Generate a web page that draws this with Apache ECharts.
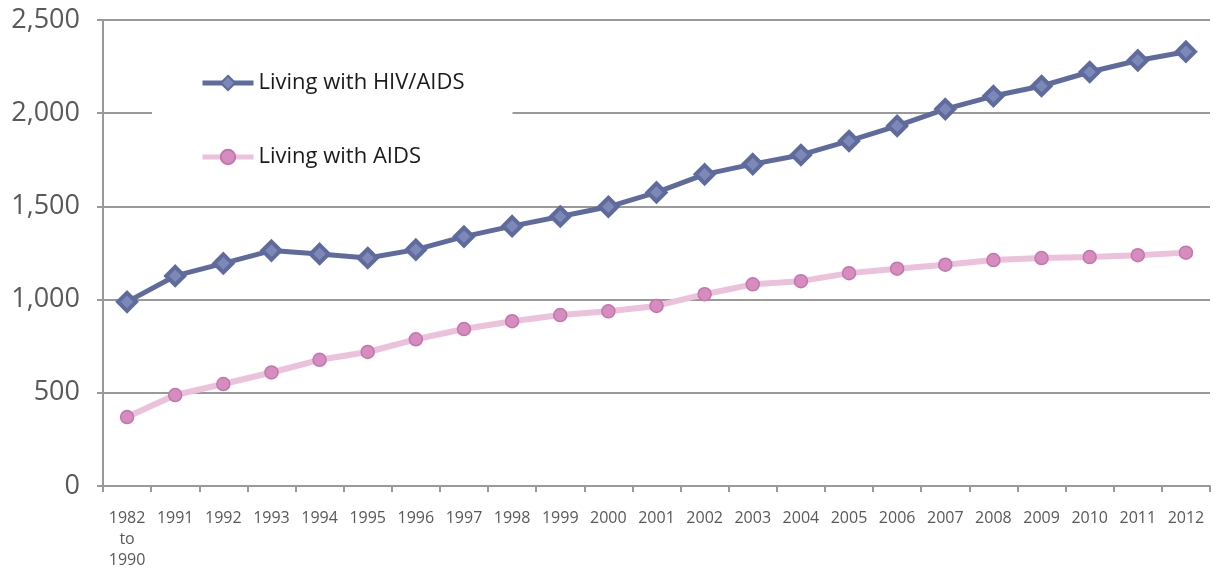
<!DOCTYPE html>
<html>
<head>
<meta charset="utf-8">
<script src="https://cdn.jsdelivr.net/npm/echarts@6/dist/echarts.min.js"></script>
<style>
html,body{margin:0;padding:0;background:#fff;}
#chart{width:1216px;height:571px;}
</style>
</head>
<body>
<div id="chart"></div>
<script>
const categories = ['1982\nto\n1990','1991','1992','1993','1994','1995','1996','1997','1998','1999','2000','2001','2002','2003','2004','2005','2006','2007','2008','2009','2010','2011','2012'];
const livingWithHivAids = [988,1127,1194,1263,1245,1223,1268,1338,1394,1446,1498,1575,1672,1727,1776,1851,1932,2022,2092,2146,2221,2283,2330];
const livingWithAids = [370,488,547,609,677,719,787,842,884,917,937,966,1029,1082,1099,1142,1166,1187,1212,1223,1228,1238,1252];
const yTicks = [0,500,1000,1500,2000,2500];

const chart = echarts.init(document.getElementById('chart'), null, {renderer:'canvas'});
const fontFamily = '"Open Sans", "Noto Sans", sans-serif';
chart.setOption({
  animation: false,
  backgroundColor: '#ffffff',
  textStyle: {fontFamily: fontFamily},
  grid: {left: 103, right: 6, top: 20, bottom: 85, outerBoundsMode: 'none'},
  legend: {
    orient: 'vertical',
    left: 152,
    top: 44,
    padding: [28, 48, 28, 48],
    backgroundColor: '#ffffff',
    itemWidth: 51,
    itemHeight: 18,
    itemGap: 52,
    textStyle: {fontSize: 22, color: '#1a1a1a', fontFamily: fontFamily, lineHeight: 22},
    data: [
      {name: 'Living with HIV/AIDS', lineStyle: {width: 5, color: '#5F6B9C'}},
      {name: 'Living with AIDS', lineStyle: {width: 5, color: '#EBC1DC'}}
    ]
  },
  xAxis: {
    type: 'category',
    data: categories,
    boundaryGap: true,
    axisLine: {show: true, lineStyle: {color: '#999999', width: 2}},
    axisTick: {show: true, length: 6, interval: 0, lineStyle: {color: '#999999', width: 2}},
    axisLabel: {interval: 0, fontSize: 16, color: '#595959', margin: 22, lineHeight: 21, fontFamily: fontFamily},
    splitLine: {show: false}
  },
  yAxis: {
    type: 'value',
    min: yTicks[0],
    max: yTicks[yTicks.length - 1],
    interval: 500,
    axisLine: {show: true, lineStyle: {color: '#999999', width: 2}},
    axisTick: {show: true, length: 6, lineStyle: {color: '#999999', width: 2}},
    axisLabel: {fontSize: 27, color: '#595959', margin: 23, fontFamily: fontFamily,
      formatter: v => v.toLocaleString('en-US')},
    splitLine: {show: true, lineStyle: {color: '#999999', width: 2}}
  },
  series: [
    {
      name: 'Living with HIV/AIDS',
      type: 'line',
      data: livingWithHivAids,
      symbol: 'diamond',
      symbolSize: 18,
      lineStyle: {color: '#5F6B9C', width: 5},
      itemStyle: {color: '#7C88B8', borderColor: '#5F6B9C', borderWidth: 4},
      z: 3
    },
    {
      name: 'Living with AIDS',
      type: 'line',
      data: livingWithAids,
      symbol: 'circle',
      symbolSize: 13,
      lineStyle: {color: '#EBC1DC', width: 6},
      itemStyle: {color: '#D68CBF', borderColor: '#C475AD', borderWidth: 1.5},
      z: 2
    }
  ]
});
</script>
</body>
</html>
